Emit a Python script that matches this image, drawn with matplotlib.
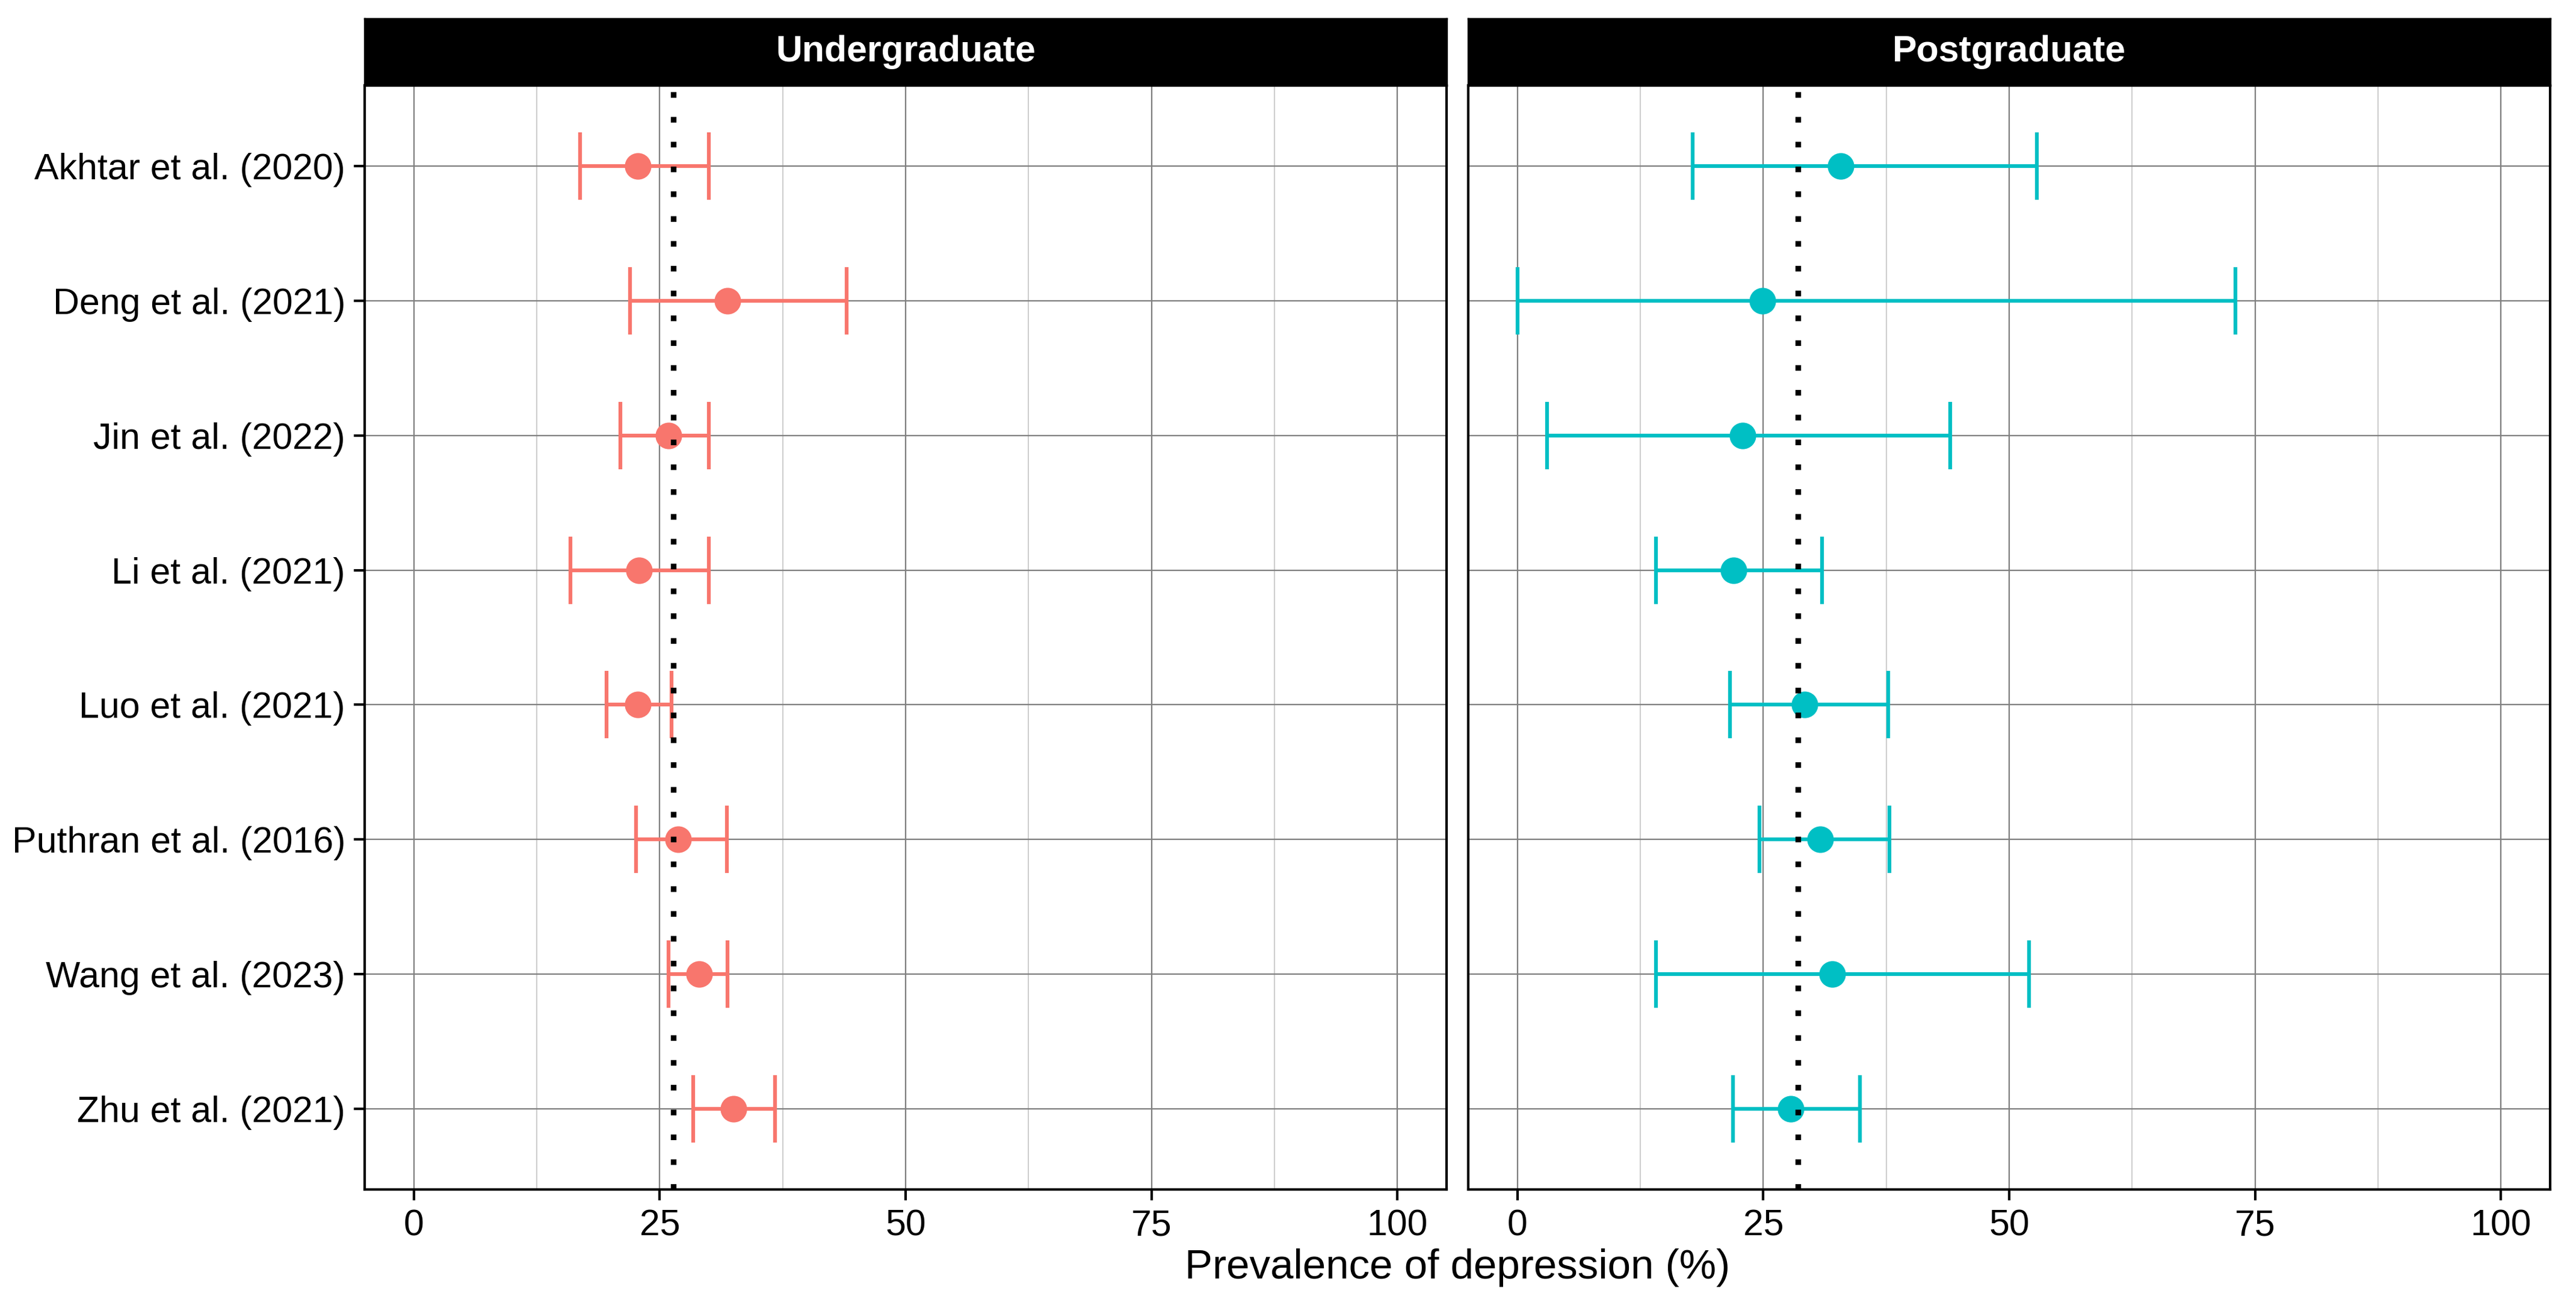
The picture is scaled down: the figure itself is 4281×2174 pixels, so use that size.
import matplotlib
matplotlib.use("Agg")
import matplotlib.pyplot as plt
import numpy as np

plt.rcParams['font.family'] = ['Liberation Sans', 'DejaVu Sans']

studies = ["Akhtar et al. (2020)", "Deng et al. (2021)", "Jin et al. (2022)",
           "Li et al. (2021)", "Luo et al. (2021)", "Puthran et al. (2016)",
           "Wang et al. (2023)", "Zhu et al. (2021)"]

# undergraduate prevalence and 95% CI
ug_est = [22.8, 31.9, 25.9, 22.9, 22.8, 26.9, 29.0, 32.5]
ug_lo = [16.9, 22.0, 21.0, 15.9, 19.6, 22.6, 25.9, 28.4]
ug_hi = [30.0, 44.0, 30.0, 30.0, 26.2, 31.8, 31.9, 36.7]
ug_pooled = 26.4

# postgraduate prevalence and 95% CI
pg_est = [32.9, 24.9, 22.9, 22.0, 29.2, 30.8, 32.0, 27.8]
pg_lo = [17.8, 0.0, 3.0, 14.1, 21.6, 24.6, 14.1, 21.9]
pg_hi = [52.8, 73.0, 44.0, 31.0, 37.7, 37.8, 52.0, 34.8]
pg_pooled = 28.5

panels = ["Undergraduate", "Postgraduate"]
colors = ["#F8766D", "#00BFC4"]
xticks = [0, 25, 50, 75, 100]

W, H = 4281, 2174
fig = plt.figure(figsize=(W / 300, H / 300), dpi=300)

top, bot = 142, 1977
boxes = [(606, 2404), (2440, 4238)]
data = [(ug_est, ug_lo, ug_hi, ug_pooled), (pg_est, pg_lo, pg_hi, pg_pooled)]

y = np.arange(len(studies))

for i, ((x0, x1), (est, lo, hi, pooled)) in enumerate(zip(boxes, data)):
    ax = fig.add_axes([x0 / W, 1 - bot / H, (x1 - x0) / W, (bot - top) / H])
    est = np.array(est)
    lo = np.array(lo)
    hi = np.array(hi)

    # grid lines
    for v in [12.5, 37.5, 62.5, 87.5]:
        ax.axvline(v, color='#c4c4c4', lw=0.4, zorder=0)
    for v in xticks:
        ax.axvline(v, color='#808080', lw=0.55, zorder=0)
    for v in y:
        ax.axhline(v, color='#808080', lw=0.55, zorder=0)

    ax.errorbar(est, y, xerr=[est - lo, hi - est], fmt='o', color=colors[i],
                ms=9.6, elinewidth=1.5, capsize=13.4, capthick=1.5, zorder=3)
    ax.axvline(pooled, color='black', lw=2.25, linestyle=(0, (1, 3.4)),
               dash_capstyle='butt', zorder=4)

    ax.set_xlim(-5, 105)
    ax.set_ylim(len(studies) - 0.4, -0.6)
    ax.set_xticks(xticks)
    ax.set_xticklabels([str(t) for t in xticks], fontsize=14.6)
    ax.tick_params(axis='x', length=4.3, width=1.0, pad=3.6)
    if i == 0:
        ax.set_yticks(y)
        ax.set_yticklabels(studies, fontsize=14.6)
        ax.tick_params(axis='y', length=4.3, width=1.0, pad=3.4)
    else:
        ax.set_yticks([])
    for s in ax.spines.values():
        s.set_linewidth(1.0)
        s.set_color('black')

    # facet strip
    sax = fig.add_axes([x0 / W, 1 - top / H, (x1 - x0) / W, (top - 31) / H])
    sax.set_facecolor('black')
    sax.set_xticks([])
    sax.set_yticks([])
    for s in sax.spines.values():
        s.set_color('black')
    sax.text(0.5, 0.5, panels[i], color='white', fontsize=14.6, fontweight='bold',
             ha='center', va='center', transform=sax.transAxes)

fig.text((606 + 4238) / 2 / W, 1 - 2107 / H, "Prevalence of depression (%)",
         ha='center', va='center', fontsize=16.6)

fig.savefig("out.png", dpi=300)
